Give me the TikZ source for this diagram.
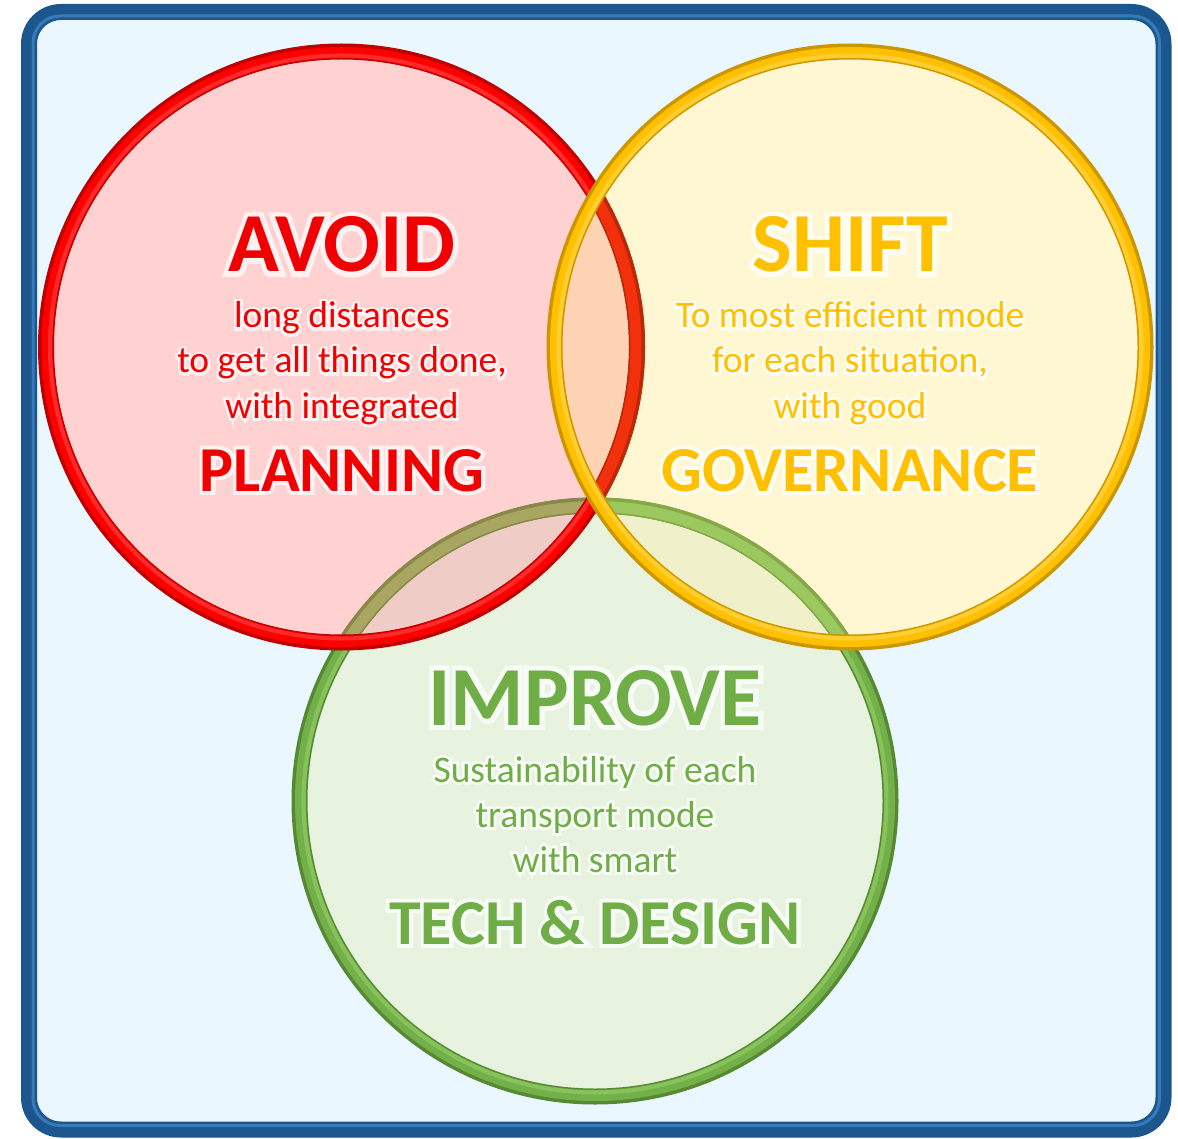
\documentclass[tikz,border=0pt]{standalone}
\usepackage{fontspec}
\setmainfont{Carlito}
\newfontfamily\glowBold{Carlito Bold}[FakeBold=12]
\newfontfamily\glowReg{Carlito}[FakeBold=15]
\definecolor{bgfill}{HTML}{EAF7FE}
\definecolor{blueD}{HTML}{1B568F}
\definecolor{blueL}{HTML}{4A92D4}
\definecolor{redS}{HTML}{FF0000}
\definecolor{redD}{HTML}{C00000}
\definecolor{redL}{HTML}{FF6060}
\definecolor{redF}{HTML}{FFD1D1}
\definecolor{yelS}{HTML}{FFC000}
\definecolor{yelD}{HTML}{CC9600}
\definecolor{yelL}{HTML}{FFE070}
\definecolor{yelF}{HTML}{FFF6D2}
\definecolor{grnS}{HTML}{74B04A}
\definecolor{grnD}{HTML}{558A33}
\definecolor{grnL}{HTML}{A0D870}
\definecolor{grnF}{HTML}{E7F2DF}
\definecolor{ryF}{HTML}{FDD3B4}
\definecolor{rgF}{HTML}{EFCDC6}
\definecolor{ygF}{HTML}{F0F1CB}
\definecolor{rygF}{HTML}{F3D6B0}
\definecolor{grnOlive}{HTML}{A8A660}
\definecolor{grnOliveD}{HTML}{8A8848}
\definecolor{grnPale}{HTML}{9CC860}
\definecolor{grnPaleD}{HTML}{86A846}
\definecolor{redOr}{HTML}{F2300C}
\definecolor{redOrD}{HTML}{B82A08}
\definecolor{redT}{HTML}{F00000}
\definecolor{yelT}{HTML}{FFC000}
\definecolor{grnT}{HTML}{70AD47}
\newcommand\bigfont{\fontsize{84}{84}\selectfont\bfseries}
\newcommand\midfont{\fontsize{64}{64}\selectfont\bfseries}
\newcommand\smallfont{\fontsize{37.5}{45}\selectfont}
\newcommand\bigglow{\fontsize{84}{84}\glowBold}
\newcommand\midglow{\fontsize{64}{64}\glowBold}
\newcommand\smallglow{\fontsize{37.5}{45}\glowReg}
\begin{document}
\begin{tikzpicture}[x=1pt,y=-1pt,
  ringdark/.style={line width=16pt},
  ringmain/.style={line width=11pt},
  ringlight/.style={line width=4pt, opacity=0.45},
  lbl/.style={anchor=base, inner sep=0pt},
  glow/.style={anchor=base, inner sep=0pt, text=white, text opacity=0.7}]
\useasboundingbox (0,0) rectangle (1178,1139);
% frame
\draw[line width=16pt, draw=blueD, fill=bgfill, rounded corners=32pt] (29,12) rectangle (1163.5,1129.5);
\draw[line width=3pt, draw=blueL, opacity=0.6, rounded corners=27pt] (33,16) rectangle (1159.5,1125.5);
\coordinate (cR) at (341.5,347);
\coordinate (cY) at (850,347);
\coordinate (cG) at (595,801);
% fills
\fill[grnF] (cG) circle[radius=295.5pt];
\fill[redF] (cR) circle[radius=295.5pt];
\fill[yelF] (cY) circle[radius=295.5pt];
\begin{scope}
  \clip (cR) circle[radius=295.5pt];
  \fill[ryF] (cY) circle[radius=295.5pt];
  \fill[rgF] (cG) circle[radius=295.5pt];
  \clip (cY) circle[radius=295.5pt];
  \fill[rygF] (cG) circle[radius=295.5pt];
\end{scope}
\begin{scope}
  \clip (cY) circle[radius=295.5pt];
  \clip (cG) circle[radius=295.5pt];
  \fill[ygF] (cG) circle[radius=295.5pt];
  \clip (cR) circle[radius=295.5pt];
  \fill[rygF] (cG) circle[radius=295.5pt];
\end{scope}
% green ring
\draw[ringdark, grnD] (cG) circle[radius=295.5pt];
\draw[ringmain, grnS] (cG) circle[radius=294.5pt];
\draw[ringlight, grnL] (cG) circle[radius=291.5pt];
\begin{scope}
  \clip (cR) circle[radius=295.5pt];
  \draw[ringdark, grnOliveD] (cG) circle[radius=295.5pt];
  \draw[ringmain, grnOlive] (cG) circle[radius=294.5pt];
\end{scope}
\begin{scope}
  \clip (cY) circle[radius=295.5pt];
  \draw[ringdark, grnPaleD] (cG) circle[radius=295.5pt];
  \draw[ringmain, grnPale] (cG) circle[radius=294.5pt];
\end{scope}
% red ring
\draw[ringdark, redD] (cR) circle[radius=295.5pt];
\draw[ringmain, redS] (cR) circle[radius=294.5pt];
\draw[ringlight, redL] (cR) circle[radius=291.5pt];
\begin{scope}
  \clip (cY) circle[radius=295.5pt];
  \draw[ringdark, redOrD] (cR) circle[radius=295.5pt];
  \draw[ringmain, redOr] (cR) circle[radius=294.5pt];
\end{scope}
% yellow ring
\draw[ringdark, yelD] (cY) circle[radius=295.5pt];
\draw[ringmain, yelS] (cY) circle[radius=294.5pt];
\draw[ringlight, yelL] (cY) circle[radius=291.5pt];
% glows
\node[glow, font=\bigglow] (gavoid) at (342,272) {AVOID};
\node[glow, font=\smallglow] (gavoid1) at (342,328) {long distances};
\node[glow, font=\smallglow] (gavoid2) at (342,373) {to get all things done,};
\node[glow, font=\smallglow] (gavoid3) at (342,418) {with integrated};
\node[glow, font=\midglow] (gplanning) at (342,491) {PLANNING};
\node[glow, font=\bigglow] (gshift) at (850,272) {SHIFT};
\node[glow, font=\smallglow] (gshift1) at (850,328) {To most efficient mode};
\node[glow, font=\smallglow] (gshift2) at (850,373) {for each situation,};
\node[glow, font=\smallglow] (gshift3) at (850,418) {with good};
\node[glow, font=\midglow] (ggovernance) at (850,491) {GOVERNANCE};
\node[glow, font=\bigglow] (gimprove) at (595,725) {IMPROVE};
\node[glow, font=\smallglow] (gimprove1) at (595,782) {Sustainability of each};
\node[glow, font=\smallglow] (gimprove2) at (595,827) {transport mode};
\node[glow, font=\smallglow] (gimprove3) at (595,872) {with smart};
\node[glow, font=\midglow] (gtechdesign) at (595,944) {TECH \& DESIGN};
% AVOID texts
\node[lbl, text=redT, font=\bigfont] (avoid) at (342,272) {AVOID};
\node[lbl, text=redT, font=\smallfont] (avoid1) at (342,328) {long distances};
\node[lbl, text=redT, font=\smallfont] (avoid2) at (342,373) {to get all things done,};
\node[lbl, text=redT, font=\smallfont] (avoid3) at (342,418) {with integrated};
\node[lbl, text=redT, font=\midfont] (planning) at (342,491) {PLANNING};
% SHIFT texts
\node[lbl, text=yelT, font=\bigfont] (shift) at (850,272) {SHIFT};
\node[lbl, text=yelT, font=\smallfont] (shift1) at (850,328) {To most efficient mode};
\node[lbl, text=yelT, font=\smallfont] (shift2) at (850,373) {for each situation,};
\node[lbl, text=yelT, font=\smallfont] (shift3) at (850,418) {with good};
\node[lbl, text=yelT, font=\midfont] (governance) at (850,491) {GOVERNANCE};
% IMPROVE texts
\node[lbl, text=grnT, font=\bigfont] (improve) at (595,725) {IMPROVE};
\node[lbl, text=grnT, font=\smallfont] (improve1) at (595,782) {Sustainability of each};
\node[lbl, text=grnT, font=\smallfont] (improve2) at (595,827) {transport mode};
\node[lbl, text=grnT, font=\smallfont] (improve3) at (595,872) {with smart};
\node[lbl, text=grnT, font=\midfont] (techdesign) at (595,944) {TECH \& DESIGN};
\end{tikzpicture}
\end{document}
